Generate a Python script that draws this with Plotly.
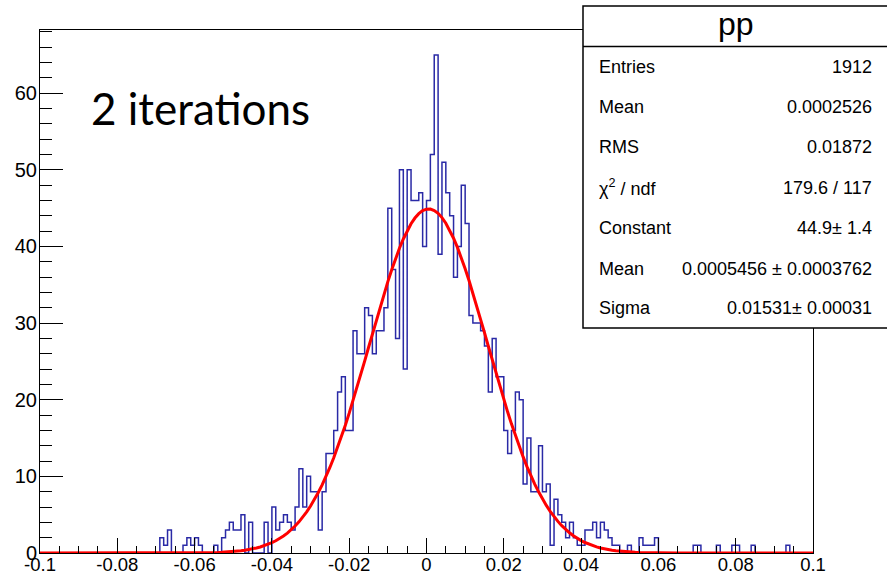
import numpy as np
import plotly.graph_objects as go

# Histogram: 200 bins over [-0.1, 0.1]
x_lo, x_hi, n_bins = -0.1, 0.1, 200
counts = [
    0, 0, 0, 0, 0, 0, 0, 0, 0, 0,
    0, 0, 0, 0, 0, 0, 0, 0, 0, 0,
    0, 0, 0, 0, 0, 0, 0, 0, 0, 0,
    0, 2, 1, 3, 0, 0, 0, 1, 2, 1,
    2, 1, 0, 0, 0, 1, 0, 2, 3, 4,
    3, 3, 5, 0, 4, 0, 0, 0, 4, 0,
    6, 3, 4, 5, 4, 3, 6, 11, 6, 10,
    8, 8, 3, 8, 13, 13, 16, 21, 23, 16,
    16, 29, 26, 26, 32, 31, 26, 29, 29, 32,
    45, 37, 28, 50, 24, 50, 46, 46, 47, 40,
    46, 52, 65, 39, 51, 47, 44, 36, 40, 48,
    43, 31, 30, 30, 29, 27, 21, 28, 23, 23,
    16, 13, 16, 21, 20, 9, 15, 8, 8, 14,
    8, 9, 1, 7, 5, 4, 2, 4, 2, 1,
    1, 3, 3, 4, 2, 4, 3, 2, 1, 1,
    0, 0, 1, 0, 0, 2, 1, 1, 1, 2,
    0, 0, 0, 0, 0, 0, 0, 0, 0, 1,
    1, 0, 0, 0, 0, 1, 0, 0, 0, 1,
    1, 0, 0, 0, 1, 0, 0, 0, 0, 0,
    0, 0, 0, 1, 0, 0, 0, 0, 0, 0,
]

# Gaussian fit parameters
fit_constant = 44.9
fit_mean = 0.0005456
fit_sigma = 0.01531

# Stats box
stats_title = "pp"
stat_names = ["Entries", "Mean", "RMS", "χ<sup>2</sup> / ndf", "Constant", "Mean", "Sigma"]
stat_values = ["1912", "0.0002526", "0.01872", "179.6 / 117",
               "44.9± 1.4", "0.0005456 ± 0.0003762", "0.01531± 0.00031"]

x_tick_vals = [-0.1, -0.08, -0.06, -0.04, -0.02, 0.0, 0.02, 0.04, 0.06, 0.08, 0.1]
x_tick_text = ["-0.1", "-0.08", "-0.06", "-0.04", "-0.02", "0", "0.02", "0.04", "0.06", "0.08", "0.1"]
y_max = 68.25

label_text = "2 iterations"

# ---------------------------------------------------------------------------
W, H = 887, 577
ML, MR, MT, MB = 40, 74, 30, 24
PW, PH = W - ML - MR, H - MT - MB


def px_x(px):
    return (px - ML) / PW


def px_y(py):
    return (H - MB - py) / PH


edges = np.linspace(x_lo, x_hi, n_bins + 1)
step_x = list(edges)
step_y = list(counts) + [counts[-1]]

fx = np.linspace(x_lo, x_hi, 201)
fy = fit_constant * np.exp(-0.5 * ((fx - fit_mean) / fit_sigma) ** 2)

fig = go.Figure()
fig.add_trace(go.Scatter(x=step_x, y=step_y, mode="lines", line_shape="hv",
                         line=dict(color="#2a2aa6", width=1.5), hoverinfo="skip"))
fig.add_trace(go.Scatter(x=fx, y=fy, mode="lines",
                         line=dict(color="#ff0000", width=3), hoverinfo="skip"))

x_font = dict(family="Liberation Sans, Arial, sans-serif", size=18.5, color="black")
y_font = dict(family="Liberation Sans, Arial, sans-serif", size=20, color="black")
minor_x = [v for v in np.round(np.arange(x_lo, x_hi + 1e-9, 0.005), 4)
           if min(abs(v - t) for t in x_tick_vals) > 1e-6]

fig.update_xaxes(range=[x_lo, x_hi], showline=True, linecolor="black", linewidth=1,
                 mirror=True, showgrid=False, zeroline=False, automargin=False,
                 ticks="inside", ticklen=15, tickcolor="black", tickwidth=1,
                 tickmode="array", tickvals=x_tick_vals, ticktext=x_tick_text,
                 tickfont=x_font, ticklabelstandoff=-5,
                 minor=dict(ticks="inside", ticklen=7, tickcolor="black", tickwidth=1,
                            tickmode="array", tickvals=minor_x, showgrid=False))
fig.update_yaxes(range=[0, y_max], showline=True, linecolor="black", linewidth=1,
                 mirror=True, showgrid=False, zeroline=False, automargin=False,
                 ticks="inside", ticklen=23, tickcolor="black", tickwidth=1,
                 tickmode="linear", tick0=0, dtick=10, tickfont=y_font,
                 ticklabelstandoff=-2,
                 minor=dict(ticks="inside", ticklen=12, tickcolor="black", tickwidth=1,
                            dtick=2, tick0=0, showgrid=False))

shapes = [
    dict(type="rect", xref="paper", yref="paper",
         x0=px_x(583), x1=px_x(895), y0=px_y(328), y1=px_y(6),
         line=dict(color="black", width=1.5), fillcolor="white", layer="above"),
    dict(type="line", xref="paper", yref="paper",
         x0=px_x(583), x1=px_x(895), y0=px_y(46.5), y1=px_y(46.5),
         line=dict(color="black", width=1.5), layer="above"),
]

stat_font = dict(family="Liberation Sans, Arial, sans-serif", size=18, color="black")
row_y = [66.5, 106.5, 147, 187.5, 228.5, 269, 308.5]
annotations = [
    dict(text=stats_title, xref="paper", yref="paper", x=px_x(736), y=px_y(24),
         xanchor="center", yanchor="middle", showarrow=False,
         font=dict(family="Liberation Sans, Arial, sans-serif", size=32, color="black")),
    dict(text=label_text, xref="paper", yref="paper", x=px_x(89), y=px_y(108),
         xanchor="left", yanchor="middle", showarrow=False,
         font=dict(family="Lato, sans-serif", size=44, color="black")),
]
for name, val, ry in zip(stat_names, stat_values, row_y):
    annotations.append(dict(text=name, xref="paper", yref="paper", x=px_x(597), y=px_y(ry),
                            xanchor="left", yanchor="middle", showarrow=False, font=stat_font))
    annotations.append(dict(text=val, xref="paper", yref="paper", x=px_x(874), y=px_y(ry),
                            xanchor="right", yanchor="middle", showarrow=False, font=stat_font))

fig.update_layout(width=W, height=H, autosize=False,
                  margin=dict(l=ML, r=MR, t=MT, b=MB),
                  paper_bgcolor="white", plot_bgcolor="white",
                  showlegend=False, shapes=shapes, annotations=annotations)

fig.write_html("out.html")
